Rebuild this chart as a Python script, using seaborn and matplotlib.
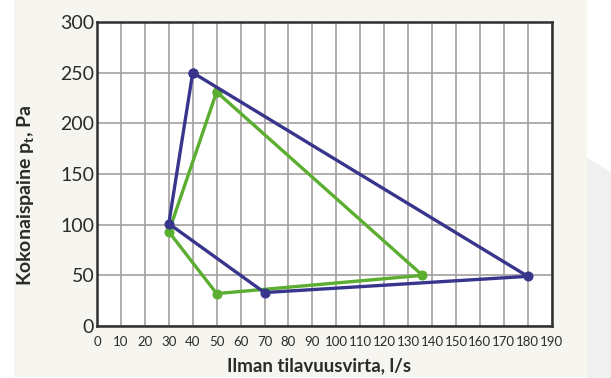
import matplotlib
matplotlib.use("Agg")
import matplotlib.pyplot as plt
from matplotlib.patches import Rectangle, Polygon
import seaborn as sns
import pandas as pd

# Operating ranges (closed polygons, first point repeated at the end)
blue_flow = [40, 30, 70, 180, 40]
blue_pressure = [250, 101, 33, 49, 250]
green_flow = [50, 30, 50, 136, 50]
green_pressure = [231, 93, 32, 50, 231]

x_ticks = list(range(0, 200, 10))
y_ticks = [0, 50, 100, 150, 200, 250, 300]

BLUE = "#37358c"
GREEN = "#5bae30"
TEXT = "#2b2b2b"

sns.set_theme(style="white")
plt.rcParams["font.family"] = ["Lato", "DejaVu Sans"]
plt.rcParams["mathtext.fontset"] = "custom"
plt.rcParams["mathtext.rm"] = "Lato"
plt.rcParams["mathtext.bf"] = "Lato:bold"

W, H = 611, 378
fig = plt.figure(figsize=(W / 100, H / 100), dpi=100, facecolor="white")

# page background panels
fig.patches.append(Polygon([[587 / W, 0], [1, 0], [1, 1 - 172 / H], [587 / W, 1 - 158 / H]],
                           closed=True, transform=fig.transFigure, facecolor="#f0f0f1",
                           edgecolor="none", zorder=-2))
fig.patches.append(Rectangle((14 / W, 1 / H), (587 - 14) / W, 1, transform=fig.transFigure,
                             facecolor="#f6f5f0", edgecolor="none", zorder=-1))

ax = fig.add_axes([97 / W, 1 - 326 / H, (551.7 - 97) / W, (326 - 22) / H])
ax.set_zorder(1)
ax.set_facecolor("white")

df_blue = pd.DataFrame({"flow": blue_flow, "pressure": blue_pressure})
df_green = pd.DataFrame({"flow": green_flow, "pressure": green_pressure})

sns.lineplot(data=df_green, x="flow", y="pressure", sort=False, estimator=None,
             color=GREEN, linewidth=2.4, marker="o", markersize=6.5,
             markeredgecolor=GREEN, ax=ax, zorder=3)
sns.lineplot(data=df_blue, x="flow", y="pressure", sort=False, estimator=None,
             color=BLUE, linewidth=2.4, marker="o", markersize=6.5,
             markeredgecolor=BLUE, ax=ax, zorder=4)

ax.set_xlim(0, 190)
ax.set_ylim(0, 300)
ax.set_xticks(x_ticks)
ax.set_yticks(y_ticks)
ax.set_xticklabels([str(v) for v in x_ticks], fontsize=9.5, color=TEXT)
ax.set_yticklabels([str(v) for v in y_ticks], fontsize=14, color=TEXT)
ax.tick_params(axis="both", length=0)
ax.tick_params(axis="y", pad=2)
ax.tick_params(axis="x", pad=7)

ax.grid(True, color="#a3a19f", linewidth=1.2)
ax.set_axisbelow(True)
for side in ax.spines.values():
    side.set_visible(True)
    side.set_color("#2f2f2f")
    side.set_linewidth(1.8)

ax.set_xlabel("")
ax.set_ylabel("")
fig.text(319 / W, 1 - 366 / H, "Ilman tilavuusvirta, l/s", fontsize=13.5, fontweight="bold",
         color=TEXT, ha="center", va="center")
fig.text(26 / W, 1 - 195 / H, r"Kokonaispaine p$_\mathbf{t}$, Pa", fontsize=14,
         fontweight="bold", color=TEXT, ha="center", va="center", rotation=90)

fig.savefig("out.png", dpi=100, facecolor=fig.get_facecolor())
